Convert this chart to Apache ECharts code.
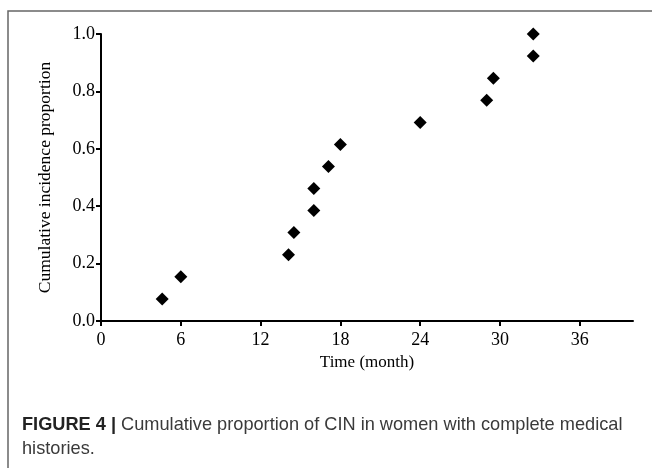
<!DOCTYPE html>
<html>
<head>
<meta charset="utf-8">
<script src="https://cdn.jsdelivr.net/npm/echarts@6/dist/echarts.min.js"></script>
<style>
    html, body { margin: 0; padding: 0; background: #fff; }
    #main { width: 652px; height: 468px; }
</style>
</head>
<body>
<div id="main"></div>
<script>
// time in months and cumulative proportion
var months = [4.6, 6, 14.1, 14.5, 16, 16, 17.1, 18, 24, 29, 29.5, 32.5, 32.5]
var proportion = [0.077, 0.154, 0.231, 0.308, 0.385, 0.462, 0.538, 0.615, 0.692, 0.769, 0.846, 0.923, 1.0]
var xTicks = [0, 6, 12, 18, 24, 30, 36]
var yTicks = [0.0, 0.2, 0.4, 0.6, 0.8, 1.0]

var points = []
for (var i = 0; i < months.length; i++) {
    points.push([months[i], proportion[i]])
}

var serif = '"Liberation Serif", "DejaVu Serif", serif'
var sans = '"Liberation Sans", Arial, sans-serif'

var chart = echarts.init(document.getElementById('main'))

chart.setOption({
    animation: false,
    backgroundColor: '#fff',
    grid: {
        left: 101,
        top: 34,
        right: 19,
        bottom: 147
    },
    xAxis: {
        type: 'value',
        min: 0,
        max: 40,
        interval: 6,
        name: 'Time (month)',
        nameLocation: 'middle',
        nameGap: 30,
        nameTextStyle: { fontFamily: serif, fontSize: 17, color: '#000' },
        splitLine: { show: false },
        axisLine: { lineStyle: { color: '#000', width: 2 } },
        axisTick: { length: 5, lineStyle: { color: '#000', width: 2 } },
        axisLabel: {
            margin: 10,
            fontFamily: serif,
            fontSize: 18,
            color: '#000',
            showMaxLabel: false,
            formatter: function (v) {
                return xTicks.indexOf(v) >= 0 ? String(v) : ''
            }
        }
    },
    yAxis: {
        type: 'value',
        min: 0,
        max: 1,
        interval: 0.2,
        name: 'Cumulative incidence proportion',
        nameLocation: 'middle',
        nameGap: 47,
        nameTextStyle: { fontFamily: serif, fontSize: 17.5, color: '#000' },
        splitLine: { show: false },
        axisLine: { lineStyle: { color: '#000', width: 2 } },
        axisTick: { length: 5, lineStyle: { color: '#000', width: 2 } },
        axisLabel: {
            margin: 6,
            fontFamily: serif,
            fontSize: 18,
            color: '#000',
            formatter: function (v) {
                return v.toFixed(1)
            }
        }
    },
    series: [
        {
            type: 'scatter',
            symbol: 'diamond',
            symbolSize: 13,
            itemStyle: { color: '#000', opacity: 1 },
            data: points
        }
    ],
    graphic: [
        // frame (top and left edges)
        {
            type: 'polyline',
            shape: { points: [[8, 468], [8, 11], [652, 11]] },
            style: { stroke: '#666', lineWidth: 1.5, fill: null }
        },
        {
            type: 'text',
            left: 22,
            top: 413,
            style: {
                text: '{b|FIGURE 4 |} Cumulative proportion of CIN in women with complete medical\nhistories.',
                font: '18.2px ' + sans,
                fill: '#3a3a3a',
                lineHeight: 24,
                rich: {
                    b: { fontWeight: 'bold', fontSize: 18.2, fontFamily: sans, fill: '#222' }
                }
            }
        }
    ]
})
</script>
</body>
</html>
